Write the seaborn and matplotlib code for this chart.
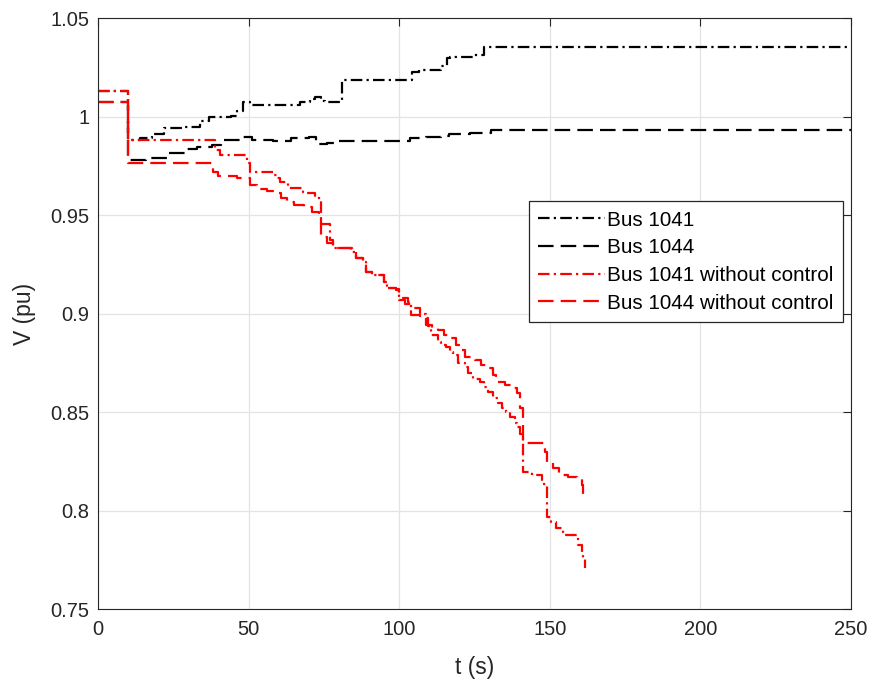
import numpy as np
import pandas as pd
import matplotlib
matplotlib.use("Agg")
import matplotlib.pyplot as plt
import seaborn as sns

# ---------------- data (step curves: value holds from t until next t) ----------------
t_bus1041 = [0, 10, 14, 18, 22, 28, 34, 37, 44, 46, 48, 50.5, 61.5, 67, 70.5, 72, 74, 75.5, 81,
             104.4, 106.5, 114, 116, 117, 124.5, 128, 250]
v_bus1041 = [1.013, 0.988, 0.989, 0.991, 0.994, 0.9948, 0.9975, 0.9998, 1.0005, 1.003, 1.0075, 1.0058,
             1.006, 1.0075, 1.009, 1.010, 1.008, 1.0075, 1.0185,
             1.0227, 1.0236, 1.0255, 1.0295, 1.0304, 1.0312, 1.0355, 1.0355]

t_bus1044 = [0, 10, 16, 23, 29, 33, 38, 41, 47.5, 51, 58, 64, 70, 72.5, 76, 80, 97, 103.5, 109,
             114, 116.5, 123.5, 130.5, 250]
v_bus1044 = [1.0075, 0.978, 0.979, 0.9815, 0.9835, 0.9847, 0.9855, 0.988, 0.9894, 0.988, 0.9875,
             0.9889, 0.9896, 0.9862, 0.9866, 0.9875, 0.9878, 0.9889, 0.9894, 0.990, 0.9911,
             0.9916, 0.9933, 0.9933]

t_bus1041_nc = [0, 10, 39, 40.5, 49.5, 50.5, 58, 59.5, 60.5, 63, 68, 69, 72, 74, 77, 78, 81, 84,
                85.6, 88, 89, 91, 95, 96, 99, 100, 103, 104, 107, 109, 109.7, 110.5, 113, 114,
                115.5, 117, 118, 119.5, 121.7, 123, 124.5, 126.7, 128, 129.5, 131, 132.7, 134,
                135.5, 136.7, 138.3, 139, 140, 141, 144, 147.3, 149, 150.5, 152, 154.4, 159.4,
                160.7, 161, 161.7]
v_bus1041_nc = [1.013, 0.988, 0.983, 0.9805, 0.9765, 0.972, 0.9705, 0.969, 0.967, 0.9636, 0.9615,
                0.961, 0.9585, 0.9455, 0.9375, 0.933, 0.9335, 0.931, 0.928, 0.926, 0.921, 0.9195,
                0.916, 0.913, 0.912, 0.908, 0.906, 0.903, 0.900, 0.8977, 0.8935, 0.889, 0.8855,
                0.884, 0.883, 0.8805, 0.879, 0.875, 0.873, 0.870, 0.867, 0.865, 0.8627, 0.860,
                0.857, 0.8545, 0.852, 0.850, 0.8475, 0.8445, 0.8425, 0.839, 0.8196, 0.818,
                0.8135, 0.7967, 0.794, 0.791, 0.7875, 0.7825, 0.7785, 0.776, 0.771]

t_bus1044_nc = [0, 10, 38.3, 40, 46, 49.5, 50.5, 52.7, 56, 58.3, 60.7, 62.8, 65, 68.3, 71, 73.3,
                74, 76, 78, 81, 84.4, 85.6, 88, 89, 91, 95, 96, 99, 100, 102, 104, 107, 109, 111,
                113, 115, 117, 119, 121, 122, 125, 127, 129, 131, 132, 135, 137, 139, 140, 141,
                147, 148.5, 149, 151, 153, 156, 159, 160.7, 161]
v_bus1044_nc = [1.0075, 0.9765, 0.9716, 0.970, 0.969, 0.9688, 0.965, 0.963, 0.962, 0.961, 0.9586,
                0.9565, 0.955, 0.954, 0.9515, 0.950, 0.939, 0.936, 0.933, 0.9335, 0.931, 0.928,
                0.926, 0.921, 0.9195, 0.916, 0.913, 0.9125, 0.907, 0.905, 0.899, 0.8985, 0.894,
                0.8925, 0.8916, 0.889, 0.8875, 0.884, 0.8815, 0.878, 0.8765, 0.874, 0.8725,
                0.869, 0.865, 0.8635, 0.862, 0.8597, 0.852, 0.8345, 0.8343, 0.8297, 0.8246,
                0.8216, 0.818, 0.817, 0.8165, 0.813, 0.808]

labels = ["Bus 1041", "Bus 1044", "Bus 1041 without control", "Bus 1044 without control"]
x_ticks = [0, 50, 100, 150, 200, 250]
y_ticks = [0.75, 0.8, 0.85, 0.9, 0.95, 1.0, 1.05]
y_ticklabels = ["0.75", "0.8", "0.85", "0.9", "0.95", "1", "1.05"]

# ---------------- style ----------------
sns.set_style("white")
plt.rcParams["font.family"] = ["Liberation Sans", "DejaVu Sans"]
plt.rcParams["axes.edgecolor"] = "#262626"
plt.rcParams["xtick.color"] = "#262626"
plt.rcParams["ytick.color"] = "#262626"

fig = plt.figure(figsize=(8.72, 6.86), dpi=100)
ax = fig.add_axes([98 / 872, 1 - 609 / 686, (851 - 98) / 872, (609 - 18) / 686])

dashdot = (0, (5.2, 1.9, 1.0, 1.9))
dashed = (0, (7.0, 3.2))

series = [
    (t_bus1041, v_bus1041, labels[0], "black", dashdot),
    (t_bus1044, v_bus1044, labels[1], "black", dashed),
    (t_bus1041_nc, v_bus1041_nc, labels[2], "#ff0000", dashdot),
    (t_bus1044_nc, v_bus1044_nc, labels[3], "#ff0000", dashed),
]
for t, v, lab, col, ls in series:
    df = pd.DataFrame({"t": t, "v": v})
    sns.lineplot(data=df, x="t", y="v", ax=ax, estimator=None, sort=False,
                 drawstyle="steps-post", color=col, linestyle=ls, linewidth=1.6,
                 label=lab)

ax.set_xlim(0, 250)
ax.set_ylim(0.75, 1.05)
ax.set_xticks(x_ticks)
ax.set_xticklabels([str(x) for x in x_ticks])
ax.set_yticks(y_ticks)
ax.set_yticklabels(y_ticklabels)
ax.tick_params(axis="both", direction="in", length=5.5, width=0.8, labelsize=14.5,
               top=True, right=True, labelcolor="#262626")
ax.tick_params(axis="x", pad=8)
ax.tick_params(axis="y", pad=6)
ax.grid(True, color="#e3e3e3", linewidth=0.9)
ax.set_axisbelow(True)
for sp in ax.spines.values():
    sp.set_linewidth(0.8)
    sp.set_color("#262626")

ax.set_xlabel("t (s)", fontsize=16.5, color="#262626")
ax.set_ylabel("V (pu)", fontsize=16.5, color="#262626")
ax.xaxis.set_label_coords(0.5, -0.08)
ax.yaxis.set_label_coords(-0.082, 0.5)

leg = ax.legend(loc="upper right", bbox_to_anchor=(0.989, 0.690), borderaxespad=0,
                fontsize=14.9, handlelength=3.2, handletextpad=0.12, labelspacing=0.42,
                borderpad=0.45, fancybox=False, framealpha=1, edgecolor="#262626")
leg.get_frame().set_linewidth(0.9)
for txt in leg.get_texts():
    txt.set_color("black")

fig.savefig("out.png", dpi=100)
